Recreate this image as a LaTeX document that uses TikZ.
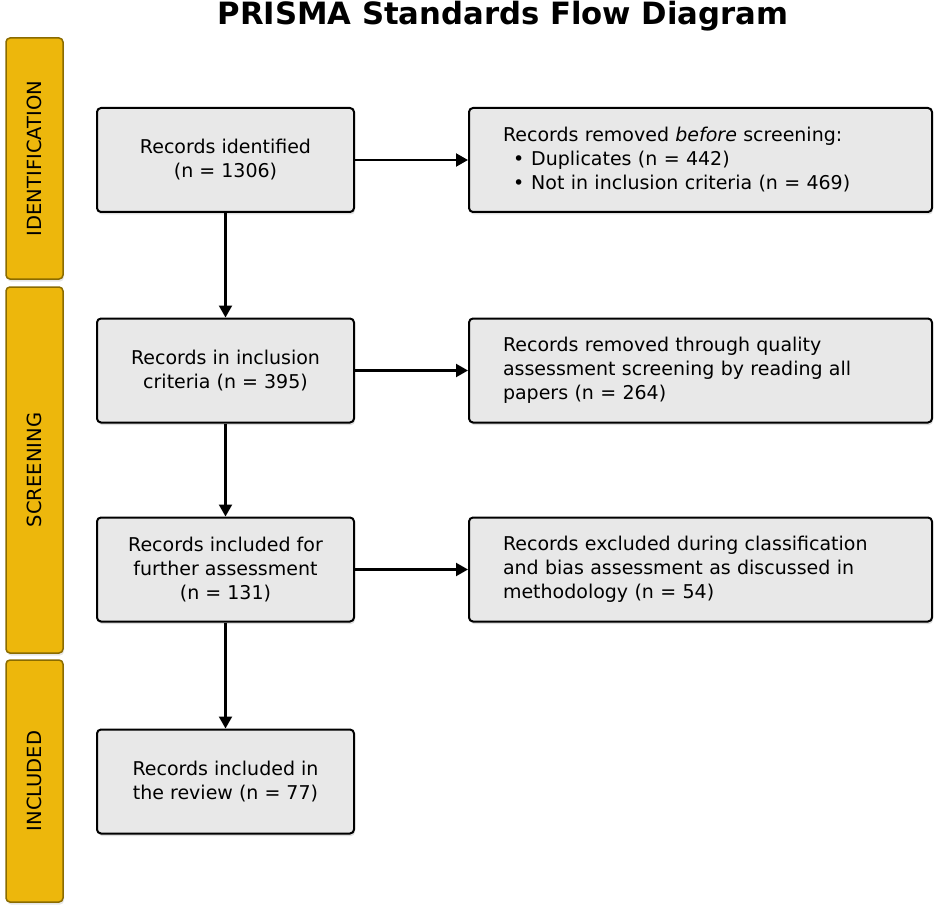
\documentclass[tikz,border=0pt]{standalone}
\usepackage{fontspec}
\setmainfont{DejaVu Sans}
\usetikzlibrary{arrows.meta,shadows}

\definecolor{barfill}{HTML}{EDB70C}
\definecolor{barline}{HTML}{8A6B00}
\definecolor{boxfill}{HTML}{E8E8E8}

\tikzset{
    recbox/.style={draw=black, line width=2pt, fill=boxfill, rounded corners=4pt,
        minimum width=257pt, minimum height=104pt, align=center,
        font=\fontsize{19}{24}\selectfont,
        drop shadow={shadow xshift=1pt, shadow yshift=-2.5pt, opacity=0.25}},
    outbox/.style={recbox, minimum width=463pt, text width=395pt, inner xsep=34pt, align=left},
    phasebar/.style={draw=barline, line width=1.5pt, fill=barfill, rounded corners=4pt,
        rotate=90, minimum height=57pt, font=\fontsize{19.5}{20}\selectfont,
        drop shadow={shadow xshift=1pt, shadow yshift=-2.5pt, opacity=0.2}},
    flow/.style={line width=2.2pt, -{Triangle[length=12pt,width=13pt]}}
}

\begin{document}
\begin{tikzpicture}[x=1pt, y=-1pt]
\useasboundingbox (0,0) rectangle (937,912);
\node[font=\fontsize{30.7}{36}\selectfont\bfseries] (title) at (503,16) {PRISMA Standards Flow Diagram};
% phases
\node[phasebar, minimum width=241pt] (ident) at (34.5,158.5) {IDENTIFICATION};
\node[phasebar, minimum width=366pt] (screen) at (34.5,470) {SCREENING};
\node[phasebar, minimum width=242pt] (incl) at (34.5,781) {INCLUDED};
% main column
\node[recbox] (found) at (225.5,160) {Records identified\\(n = 1306)};
\node[recbox] (crit) at (225.5,370.5) {Records in inclusion\\criteria (n = 395)};
\node[recbox] (further) at (225.5,569.5) {Records included for\\further assessment\\(n = 131)};
\node[recbox] (review) at (225.5,781.5) {Records included in\\the review (n = 77)};
% removed records
\node[outbox] (dup) at (700.5,160) {Records removed \textit{before} screening:\\
    \hspace*{10pt}\textbullet\hspace{7pt}Duplicates (n = 442)\\
    \hspace*{10pt}\textbullet\hspace{7pt}Not in inclusion criteria (n = 469)};
\node[outbox] (quality) at (700.5,370.5) {Records removed through quality\\assessment screening by reading all\\papers (n = 264)};
\node[outbox] (bias) at (700.5,569.5) {Records excluded during classification\\and bias assessment as discussed in\\methodology (n = 54)};
% arrows
\draw[flow] (found) -- (crit);
\draw[flow] (crit) -- (further);
\draw[flow] (further) -- (review);
\draw[flow] (found) -- (dup);
\draw[flow] (crit) -- (quality);
\draw[flow] (further) -- (bias);
\end{tikzpicture}
\end{document}
